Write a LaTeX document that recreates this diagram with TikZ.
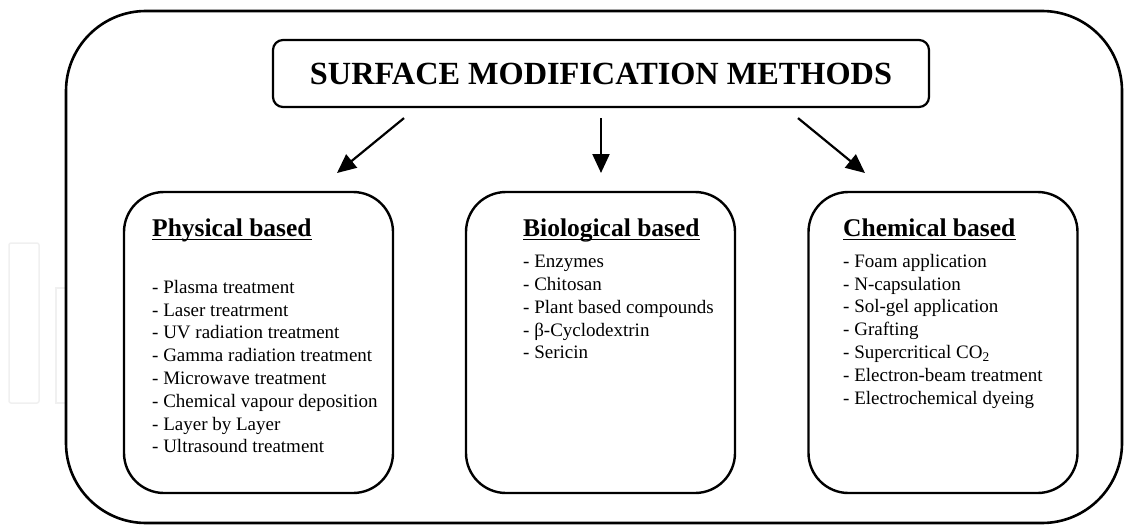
\documentclass[tikz,border=0pt]{standalone}
\usepackage{fontspec}
\setmainfont{Liberation Serif}
\usetikzlibrary{arrows.meta}

\begin{document}
\begin{tikzpicture}[x=1pt,y=-1pt,
    box/.style={draw,line width=2.4pt,rounded corners=40pt,minimum width=269pt,minimum height=301pt,inner sep=0pt},
    headtxt/.style={font=\fontsize{25.5}{30}\selectfont\bfseries,anchor=base west,inner sep=0pt},
    listtxt/.style={font=\fontsize{19}{22.8}\selectfont,anchor=north west,align=left,inner sep=0pt},
    uline/.style={line width=1.6pt},
    bigarrow/.style={line width=2.2pt,-{Triangle[length=19pt,width=17pt]}}]
    \useasboundingbox (0,0) rectangle (1124,527);

    % faint marks on the left edge
    \draw[black!6,line width=1.5pt,rounded corners=2pt] (9,243) rectangle (39,403);
    \draw[black!6,line width=1.5pt] (66,288) -- (56,288) -- (56,403) -- (66,403);

    % outer frame
    \draw[line width=2.6pt,rounded corners=80pt] (66,11) rectangle (1122,523);

    \node[draw,line width=2.2pt,rounded corners=10pt,minimum width=656pt,minimum height=67pt,
          font=\fontsize{32.3}{36}\selectfont\bfseries] (title) at (601,73.5) {SURFACE MODIFICATION METHODS};

    % the three groups
    \node[box] (physical) at (258.5,342.5) {};
    \node[box] (biological) at (600.5,342.5) {};
    \node[box] (chemical) at (943,342.5) {};

    \node[headtxt] (physhead) at (152,236) {Physical based};
    \draw[uline] ([yshift=-3.5pt]physhead.base west) -- ([yshift=-3.5pt]physhead.base east);
    \node[headtxt] (biohead) at (523,236) {Biological based};
    \draw[uline] ([yshift=-3.5pt]biohead.base west) -- ([yshift=-3.5pt]biohead.base east);
    \node[headtxt] (chemhead) at (843,236) {Chemical based};
    \draw[uline] ([yshift=-3.5pt]chemhead.base west) -- ([yshift=-3.5pt]chemhead.base east);

    \node[listtxt] (physlist) at (152,280) {- Plasma treatment\\- Laser treatrment\\- UV radiation treatment\\
        - Gamma radiation treatment\\- Microwave treatment\\- Chemical vapour deposition\\
        - Layer by Layer\\- Ultrasound treatment};
    \node[listtxt] (biolist) at (523,255) {- Enzymes\\- Chitosan\\- Plant based compounds\\
        - β-Cyclodextrin\\- Sericin};
    \node[listtxt] (chemlist) at (843,254) {- Foam application\\- N-capsulation\\- Sol-gel application\\
        - Grafting\\- Supercritical CO\textsubscript{2}\\- Electron-beam treatment\\- Electrochemical dyeing};

    % arrows from the title
    \coordinate (tipP) at (337,173);
    \coordinate (tipB) at (601,173);
    \coordinate (tipC) at (865,173);
    \draw[bigarrow] ([xshift=-197pt,yshift=-10pt]title.south) -- (tipP);
    \draw[bigarrow] ([yshift=-10pt]title.south) -- (tipB);
    \draw[bigarrow] ([xshift=197pt,yshift=-10pt]title.south) -- (tipC);
\end{tikzpicture}
\end{document}
